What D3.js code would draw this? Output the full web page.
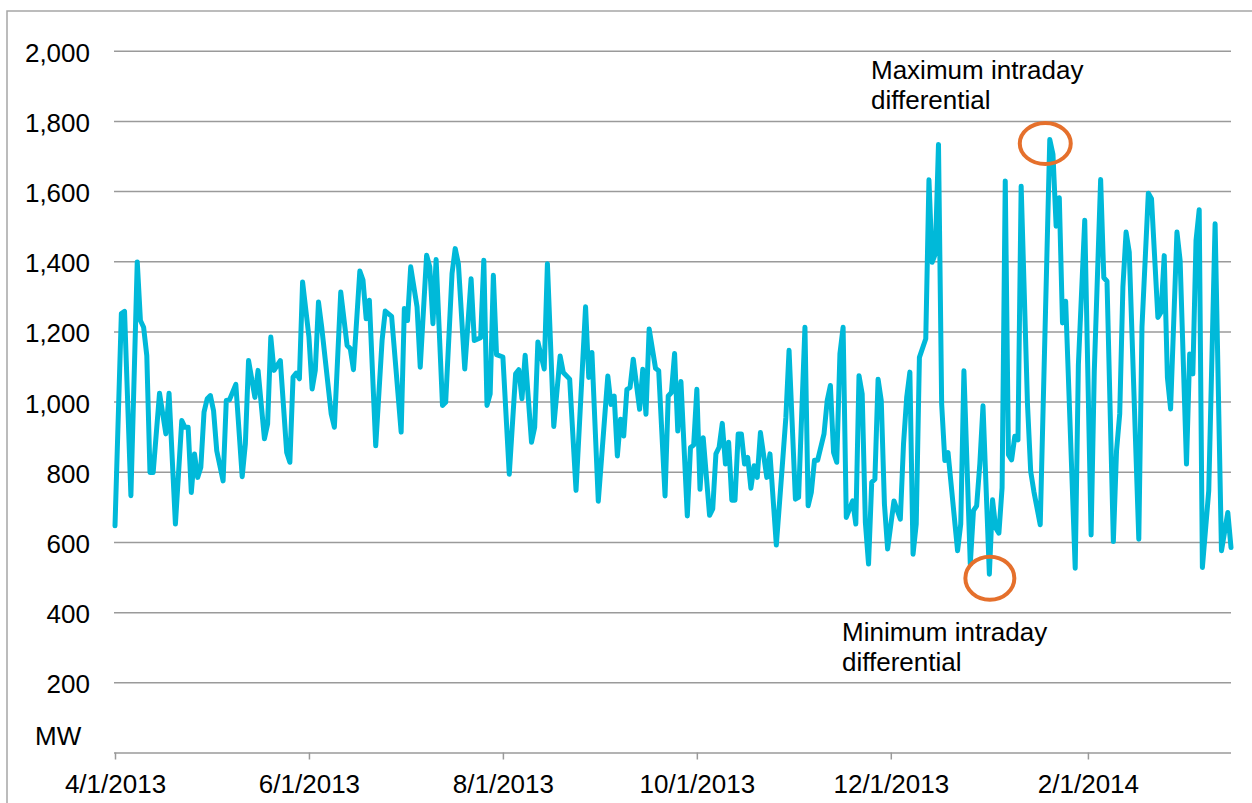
<!DOCTYPE html>
<html>
<head>
<meta charset="utf-8">
<script src="https://cdn.jsdelivr.net/npm/d3@7"></script>
<style>
  body { margin: 0; background: #fff; }
  svg { display: block; font-family: "Liberation Sans", Arial, sans-serif; }
</style>
</head>
<body>
<svg id="chart" width="1252" height="803"></svg>
<script>
// days counted from 4/1/2013, values in MW
const startDate = new Date(2013, 3, 1);
const endDate = new Date(2014, 2, 18);

const dayOffsets = [
  0, 2, 3, 5, 7, 8, 9, 10, 11, 12, 14, 16, 17, 19, 21, 22, 23, 24, 25, 26, 27, 28, 29, 30, 31, 32, 34, 35, 36, 38,
  40, 41, 42, 44, 45, 47, 48, 49, 50, 52, 54, 55, 56, 57, 58, 59, 61, 62, 63, 64, 65, 68, 69, 71, 73, 74, 75, 77, 78, 79,
  80, 82, 84, 85, 87, 90, 91, 92, 93, 95, 96, 98, 99, 100, 101, 103, 104, 106, 107, 108, 110, 112, 113, 115, 116, 117, 118, 119, 120, 122,
  124, 126, 127, 128, 129, 131, 132, 133, 135, 136, 138, 140, 141, 143, 145, 148, 149, 150, 152, 155, 156, 157, 158, 159, 160, 161, 162, 163, 165, 166,
  167, 168, 170, 171, 173, 174, 175, 176, 177, 178, 180, 181, 182, 183, 184, 185, 187, 188, 189, 190, 191, 192, 193, 194, 195, 196, 197, 198, 199, 200,
  201, 202, 203, 205, 206, 208, 210, 211, 212, 214, 215, 217, 218, 219, 220, 221, 223, 224, 225, 226, 227, 228, 229, 230, 232, 233, 234, 235, 236, 237,
  238, 239, 240, 241, 242, 243, 245, 247, 248, 249, 250, 251, 252, 253, 255, 256, 257, 258, 259, 260, 261, 262, 265, 266, 267, 269, 270, 271, 272, 273,
  275, 276, 277, 278, 279, 280, 281, 282, 283, 284, 285, 287, 288, 289, 291, 294, 295, 296, 297, 298, 299, 302, 303, 305, 307, 308, 310, 311, 312, 314,
  315, 316, 317, 318, 319, 322, 323, 325, 326, 328, 329, 330, 331, 332, 334, 335, 337, 338, 339, 340, 341, 342, 344, 346, 348, 350, 351
];

const mwValues = [
  646, 1251, 1257, 732, 1398, 1231, 1212, 1131, 798, 798, 1024, 908, 1024, 651, 946, 927, 927, 741, 851, 784, 813, 970, 1008, 1017, 974, 860, 774, 1003, 1005, 1049,
  786, 879, 1117, 1012, 1089, 894, 936, 1184, 1089, 1117, 855, 827, 1070, 1081, 1065, 1341, 1184, 1036, 1089, 1284, 1213, 965, 927, 1312, 1160, 1151, 1091, 1372, 1346, 1236,
  1289, 874, 1174, 1258, 1243, 913, 1265, 1231, 1384, 1270, 1098, 1417, 1384, 1222, 1405, 989, 998, 1365, 1436, 1393, 1093, 1350, 1174, 1182, 1403, 989, 1022, 1360, 1134, 1127,
  793, 1079, 1091, 1008, 1132, 884, 927, 1170, 1093, 1393, 929, 1130, 1083, 1064, 747, 1270, 1069, 1140, 716, 1073, 992, 1016, 845, 950, 902, 1035, 1040, 1121, 978, 1092,
  964, 1207, 1095, 1088, 731, 1016, 1026, 1137, 916, 1057, 674, 869, 876, 1035, 750, 897, 676, 694, 851, 870, 938, 822, 884, 719, 719, 908, 908, 822, 841, 753,
  817, 784, 912, 784, 851, 591, 832, 955, 1146, 722, 727, 1212, 703, 741, 833, 833, 908, 1003, 1046, 855, 827, 1136, 1212, 670, 717, 651, 1074, 1022, 656, 537,
  770, 779, 1064, 1003, 708, 580, 717, 665, 879, 1012, 1084, 565, 651, 1126, 1179, 1632, 1397, 1421, 1733, 993, 832, 855, 575, 651, 1088, 537, 689, 703, 822, 988,
  508, 720, 640, 625, 754, 1629, 849, 834, 901, 891, 1614, 991, 801, 744, 649, 1747, 1705, 1500, 1581, 1224, 1286, 525, 1105, 1517, 620, 1086, 1633, 1353, 1343, 601,
  860, 965, 1326, 1483, 1426, 608, 1212, 1594, 1578, 1240, 1255, 1416, 1069, 979, 1483, 1402, 822, 1136, 1079, 1459, 1547, 527, 746, 1507, 575, 684, 584
];

const yTicks = [200, 400, 600, 800, 1000, 1200, 1400, 1600, 1800, 2000];
const xTickDates = ['4/1/2013', '6/1/2013', '8/1/2013', '10/1/2013', '12/1/2013', '2/1/2014'];
const unitLabel = 'MW';
const maxNote = ['Maximum intraday', 'differential'];
const minNote = ['Minimum intraday', 'differential'];

const svg = d3.select('#chart');
const plotLeft = 114, plotRight = 1231, plotTop = 50.7, plotBottom = 752.5;

const data = dayOffsets.map((d, i) => ({ date: d3.timeDay.offset(startDate, d), mw: mwValues[i] }));

const x = d3.scaleTime().domain([startDate, endDate]).range([115, plotRight]);
const y = d3.scaleLinear().domain([0, 2000]).range([plotBottom, plotTop]);

// outer frame (only left and top show inside the picture)
svg.append('path').attr('d', 'M7,900V11H1400').attr('fill', 'none')
  .attr('stroke', '#a6a6a6').attr('stroke-width', 1.5);

// y gridlines + labels
const yAxis = svg.append('g').attr('transform', `translate(${plotLeft},0)`)
  .call(d3.axisLeft(y).tickValues(yTicks).tickFormat(d3.format(',')).tickSize(-(plotRight - plotLeft)).tickPadding(24));
yAxis.select('.domain').remove();
yAxis.selectAll('.tick line').attr('stroke', '#9a9a9a').attr('stroke-width', 1.5);
yAxis.selectAll('.tick text').attr('font-size', 26).attr('fill', '#000').attr('dy', '0.4em')
  .attr('font-family', '"Liberation Sans", Arial, sans-serif');

// x axis
const parse = d3.timeParse('%m/%d/%Y');
const xAxis = svg.append('g').attr('transform', `translate(0,${plotBottom})`)
  .call(d3.axisBottom(x).tickValues(xTickDates.map(parse))
    .tickFormat(d3.timeFormat('%-m/%-d/%Y')).tickSize(7).tickSizeOuter(0).tickPadding(15));
xAxis.select('.domain').attr('stroke', '#9a9a9a').attr('stroke-width', 1.5)
  .attr('d', `M${plotLeft},0.5H${plotRight}`);
xAxis.selectAll('.tick line').attr('stroke', '#9a9a9a').attr('stroke-width', 1.5);
xAxis.selectAll('.tick text').attr('font-size', 26).attr('fill', '#000')
  .attr('font-family', '"Liberation Sans", Arial, sans-serif');

svg.append('text').attr('x', 35).attr('y', 745).attr('font-size', 26).text(unitLabel);

// the series
const line = d3.line().x(d => x(d.date)).y(d => y(d.mw));
svg.append('path').datum(data).attr('d', line).attr('fill', 'none')
  .attr('stroke', '#00b9d9').attr('stroke-width', 5)
  .attr('stroke-linejoin', 'round').attr('stroke-linecap', 'round');

// rings around max and min
const maxPt = data.reduce((a, b) => (b.mw > a.mw ? b : a));
const minPt = data.reduce((a, b) => (b.mw < a.mw ? b : a));
svg.append('ellipse').attr('cx', x(maxPt.date) - 4.5).attr('cy', y(maxPt.mw) + 4)
  .attr('rx', 25.5).attr('ry', 20.5).attr('fill', 'none').attr('stroke', '#e5702c').attr('stroke-width', 4);
svg.append('ellipse').attr('cx', x(minPt.date) + 0.5).attr('cy', y(minPt.mw) + 4)
  .attr('rx', 24.5).attr('ry', 21.5).attr('fill', 'none').attr('stroke', '#e5702c').attr('stroke-width', 4);

function note(lines, x0, y0) {
  const t = svg.append('text').attr('x', x0).attr('y', y0).attr('font-size', 26).attr('fill', '#000');
  lines.forEach((s, i) => t.append('tspan').attr('x', x0).attr('dy', i ? 30 : 0).text(s));
}
note(maxNote, 871, 79);
note(minNote, 842, 641);
</script>
</body>
</html>
